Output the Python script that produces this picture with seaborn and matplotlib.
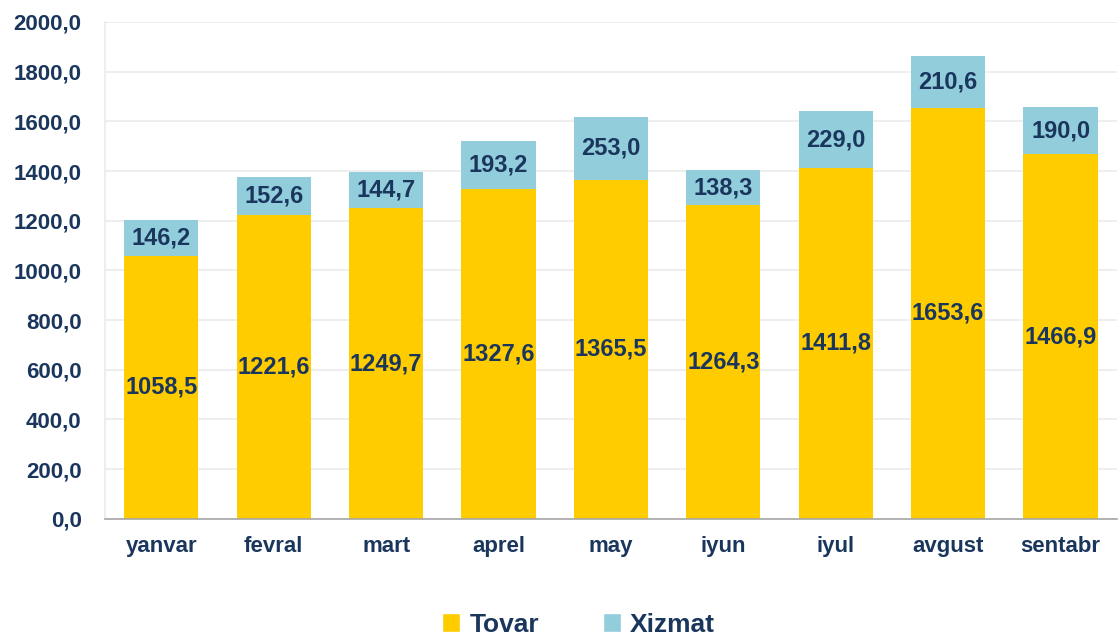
import matplotlib
matplotlib.use("Agg")
import matplotlib.pyplot as plt
import seaborn as sns
import pandas as pd
from matplotlib.patches import Patch

oylar = ["yanvar", "fevral", "mart", "aprel", "may", "iyun", "iyul", "avgust", "sentabr"]
tovar = [1058.5, 1221.6, 1249.7, 1327.6, 1365.5, 1264.3, 1411.8, 1653.6, 1466.9]
xizmat = [146.2, 152.6, 144.7, 193.2, 253.0, 138.3, 229.0, 210.6, 190.0]
y_ticks = [0, 200, 400, 600, 800, 1000, 1200, 1400, 1600, 1800, 2000]

sariq = "#FFCC00"
kok = "#92CDDC"
matn = "#1A365D"

df = pd.DataFrame({"oy": oylar, "Tovar": tovar, "Xizmat": xizmat})
df["Jami"] = df["Tovar"] + df["Xizmat"]

sns.set_style("white")
plt.rcParams["font.family"] = ["Liberation Sans", "DejaVu Sans"]

fig = plt.figure(figsize=(11.19, 6.39), dpi=100)
ax = fig.add_axes([0.094, 0.188, 0.904, 0.7776])

sns.barplot(data=df, x="oy", y="Jami", color=kok, width=0.66, saturation=1, linewidth=0, ax=ax)
sns.barplot(data=df, x="oy", y="Tovar", color=sariq, width=0.66, saturation=1, linewidth=0, ax=ax)

for i, (t, x) in enumerate(zip(tovar, xizmat)):
    ax.text(i, t / 2, f"{t:.1f}".replace(".", ","), ha="center", va="center",
            fontsize=17, fontweight="bold", color=matn)
    ax.text(i, t + x / 2, f"{x:.1f}".replace(".", ","), ha="center", va="center",
            fontsize=17, fontweight="bold", color=matn)

ax.set_ylim(0, 2000)
ax.set_xlim(-0.5, len(oylar) - 0.5)
ax.set_yticks(y_ticks)
ax.set_yticklabels([f"{v:.1f}".replace(".", ",") for v in y_ticks],
                   fontsize=16, fontweight="bold", color=matn)
ax.set_xticks(range(len(oylar)))
ax.set_xticklabels(oylar, fontsize=16, fontweight="bold", color=matn)
ax.set_xticks([i - 0.5 for i in range(len(oylar) + 1)], minor=True)
ax.tick_params(axis="x", which="major", length=0, pad=12)
ax.tick_params(axis="x", which="minor", length=5, color="#A6A6A6", width=1.2, direction="out")
ax.tick_params(axis="y", length=5, color="#EBEBEB", width=1.2, pad=12)
ax.set_xlabel("")
ax.set_ylabel("")

ax.yaxis.grid(True, color="#EBEBEB", linewidth=1.2)
ax.set_axisbelow(True)
for s in ["top", "right"]:
    ax.spines[s].set_visible(False)
ax.spines["left"].set_color("#EBEBEB")
ax.spines["left"].set_linewidth(1.2)
ax.spines["bottom"].set_color("#A6A6A6")
ax.spines["bottom"].set_linewidth(1.2)

handles = [Patch(facecolor=sariq, label="Tovar"), Patch(facecolor=kok, label="Xizmat")]
leg = fig.legend(handles=handles, loc="lower center", bbox_to_anchor=(0.517, -0.025), ncol=2,
                 frameon=False, handlelength=0.7, handleheight=0.7, handletextpad=0.35,
                 columnspacing=2.4, borderpad=0.2, prop={"size": 19, "weight": "bold"})
for t in leg.get_texts():
    t.set_color(matn)

fig.savefig("out.png", dpi=100)
